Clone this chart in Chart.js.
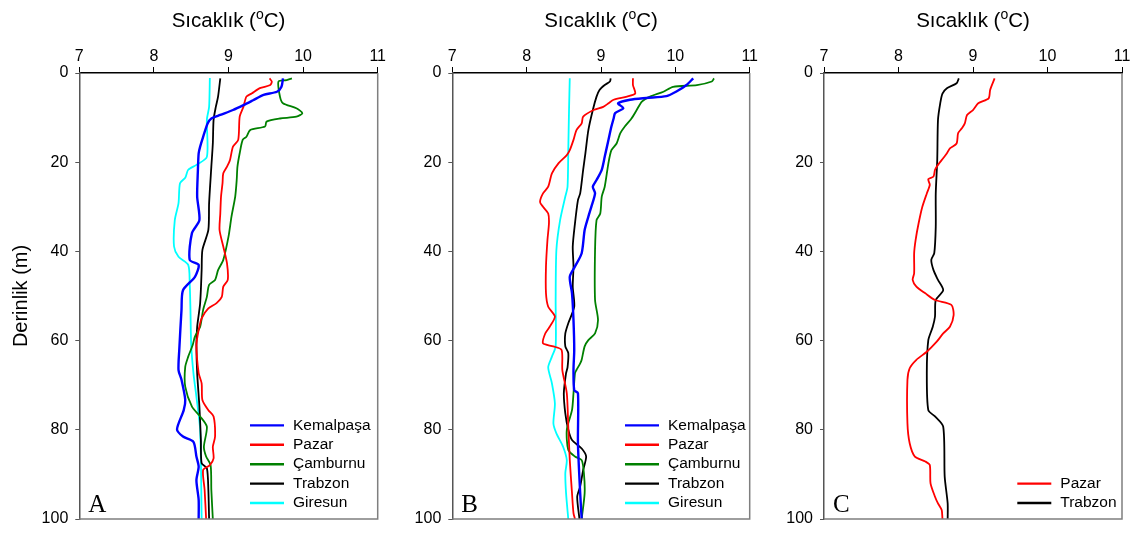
<!DOCTYPE html>
<html>
<head>
<meta charset="utf-8">
<script src="https://cdn.jsdelivr.net/npm/chart.js@4/dist/chart.umd.min.js"></script>
<style>
  html, body { margin: 0; padding: 0; background: #fff; }
  body { width: 1142px; height: 537px; position: relative; overflow: hidden; }
  canvas { position: absolute; top: 0; }
</style>
</head>
<body>
<canvas id="cA" width="390" height="537" style="left:0px"></canvas>
<canvas id="cB" width="372" height="537" style="left:390px"></canvas>
<canvas id="cC" width="380" height="537" style="left:762px"></canvas>
<script>
// ---------- DATA ----------
const xTicks = [7, 8, 9, 10, 11];
const yTicks = [0, 20, 40, 60, 80, 100];
const stations = ["Kemalpaşa", "Pazar", "Çamburnu", "Trabzon", "Giresun"];

// Panel A
const A_kemalpasa_T = [9.73,9.71,9.65,9.47,9.33,9.20,9.06,8.89,8.77,8.72,8.66,8.62,8.60,8.59,8.58,8.61,8.51,8.48,8.60,8.55,8.39,8.37,8.34,8.33,8.37,8.42,8.40,8.31,8.39,8.53,8.57,8.60,8.57,8.60,8.60];
const A_kemalpasa_D = [1.2,3.1,4.2,4.9,6.1,7.2,8.3,9.4,10.2,11.3,14.3,16.5,18,21.7,27.7,33,35.9,41.9,43,45.7,48.7,53.1,62.1,66.6,68.8,73.3,75.6,79.9,81.5,82.7,86,88.3,91.3,95.7,100];
const A_pazar_T = [9.55,9.58,9.56,9.42,9.31,9.24,9.20,9.15,9.13,9.06,9.02,8.98,8.93,8.92,8.90,8.89,8.88,8.93,8.98,8.99,8.93,8.91,8.84,8.73,8.64,8.60,8.57,8.60,8.64,8.65,8.73,8.80,8.82,8.79,8.80,8.75,8.66,8.68,8.70];
const A_pazar_D = [1.2,1.9,2.7,3.4,4.6,5.3,7.6,9.8,15,16.5,19.5,21,22.5,24.7,27.7,31.5,35.2,38.9,42.7,46.4,47.9,50.2,51.6,52.8,55,57.6,61,67.3,69.6,73.3,75.6,77,81.5,83.8,86.4,87.9,89,93.5,100];
const A_camburnu_T = [9.85,9.78,9.67,9.69,9.73,9.91,9.99,9.91,9.69,9.51,9.49,9.29,9.24,9.19,9.15,9.12,9.11,9.09,9.04,9.00,8.93,8.86,8.82,8.74,8.71,8.66,8.62,8.55,8.52,8.46,8.42,8.42,8.51,8.62,8.71,8.67,8.70,8.76,8.77,8.79];
const A_camburnu_D = [1.2,1.6,1.9,5.3,6.8,7.9,9,9.8,10.2,10.9,12,12.8,14.3,15,18,21,24,27.7,32.2,36.7,41.9,44.2,46.4,47.5,50.2,53.1,56.9,59.1,61,63.6,65.9,70.3,74.8,77,79.3,83.8,86,87.9,93.5,100];
const A_trabzon_T = [8.89,8.86,8.83,8.80,8.79,8.77,8.74,8.73,8.65,8.64,8.62,8.58,8.57,8.58,8.61,8.63,8.64,8.71,8.73,8.74];
const A_trabzon_D = [1.2,5.3,7.6,10.5,15.8,21,29.2,35.2,39.7,44.2,51.6,56.9,61,67.3,74.8,82.3,87.5,88.6,93.5,100];
const A_giresun_T = [8.75,8.74,8.71,8.71,8.57,8.46,8.42,8.35,8.33,8.28,8.27,8.33,8.46,8.48,8.49,8.50,8.53,8.57,8.62,8.64];
const A_giresun_D = [1.1,7.6,10.5,18.8,20.6,21.7,23.5,24.7,29.2,33,38.9,41.2,43,47.2,53.1,61,67.3,72.6,80,100];

// Panel B
const B_kemalpasa_T = [10.24,10.15,10.02,9.88,9.61,9.39,9.23,9.30,9.19,9.17,9.14,9.10,9.05,9.01,8.94,8.89,8.92,8.87,8.83,8.78,8.74,8.65,8.58,8.61,8.63,8.64,8.63,8.64,8.69,8.69,8.72,8.74];
const B_kemalpasa_D = [1.2,2.7,4.1,5.2,5.6,6,6.8,7.9,9,10.2,12,15,18.8,21.7,24,25.5,27,30,32.2,35.2,40.4,43.4,45.7,49.4,55.4,62.1,66.6,71.1,71.8,83,94.2,100];
const B_pazar_T = [9.43,9.43,9.46,9.35,9.17,9.10,9.03,8.90,8.76,8.74,8.67,8.63,8.58,8.54,8.43,8.34,8.29,8.22,8.18,8.22,8.29,8.30,8.28,8.26,8.26,8.29,8.38,8.31,8.25,8.22,8.36,8.47,8.48,8.54,8.56,8.58,8.61,8.63,8.65];
const B_pazar_D = [1.2,2.7,4.6,5.3,6,6.8,7.6,8.3,9.8,11.3,12.8,15,17.3,18.4,20.2,22.5,25.5,27,28.9,30,31.5,33.7,37.4,43.4,49.4,52.4,54.6,56.9,58.4,60.6,61.3,62.1,66.6,71.8,79.3,86.8,94.2,98.7,100];
const B_camburnu_T = [10.52,10.49,10.29,9.97,9.84,9.66,9.55,9.48,9.41,9.32,9.26,9.21,9.14,9.10,9.05,9.01,8.99,8.94,8.92,8.92,8.96,8.92,8.83,8.78,8.74,8.72,8.67,8.65,8.63,8.61,8.54,8.56,8.65,8.74,8.77,8.78,8.74];
const B_camburnu_D = [1.2,1.9,2.7,3.1,4.2,5.3,6.4,8.3,10.2,12,13.5,15.8,17.3,20.2,25.5,27.7,31.5,33,39.7,50.9,55.4,58.4,59.9,61.3,64.3,65.1,66.6,67.3,71.8,75.6,80,84.5,86,86.8,89.7,94.2,100];
const B_trabzon_T = [9.13,9.12,9.05,8.98,8.94,8.89,8.83,8.79,8.76,8.72,8.69,8.65,8.62,8.63,8.62,8.64,8.56,8.52,8.52,8.56,8.55,8.53,8.50,8.52,8.56,8.61,8.74,8.80,8.76,8.72,8.68,8.71];
const B_trabzon_D = [1.2,1.9,2.7,3.8,5.3,8.3,12.8,18,21.7,27,28.5,33.7,38.9,43.4,47.9,52.4,56.1,58.4,61.3,62.8,66,67.3,71.8,76.3,80,82.3,84.2,86,89,92.7,95,100];
const B_giresun_T = [8.58,8.57,8.56,8.55,8.52,8.45,8.40,8.39,8.39,8.34,8.29,8.34,8.38,8.36,8.40,8.49,8.54,8.52,8.53,8.56];
const B_giresun_D = [1.2,8.3,17.3,25.5,27.7,33,39.7,50.9,61.3,63.6,66,69.6,74.1,78.6,80.8,83.8,86.8,89.7,94.2,100];

// Panel C
const C_pazar_T = [9.29,9.23,9.21,9.07,9.00,8.92,8.89,8.85,8.80,8.78,8.69,8.65,8.60,8.53,8.49,8.47,8.40,8.42,8.38,8.32,8.27,8.23,8.21,8.21,8.19,8.24,8.36,8.49,8.71,8.74,8.69,8.60,8.51,8.38,8.24,8.15,8.12,8.12,8.15,8.22,8.36,8.42,8.43,8.49,8.53,8.58,8.59];
const C_pazar_D = [1.2,3.8,5.7,6.8,8.3,9.4,11.3,12.4,13.5,15.8,16.9,18,19.1,20.6,21.7,23.2,23.8,25.1,27,30,33.7,37.4,40.4,44.9,46.4,47.9,49.4,50.9,52,54.3,56.9,58.4,60.3,62.5,64.3,66.2,68.8,78.5,83,86,87.1,87.9,92,95,96.5,98,100];
const C_trabzon_T = [8.81,8.78,8.65,8.59,8.56,8.53,8.52,8.50,8.50,8.48,8.44,8.47,8.53,8.60,8.50,8.49,8.46,8.40,8.38,8.40,8.49,8.60,8.62,8.66,8.66];
const C_trabzon_D = [1.2,2.3,3.4,4.6,6.8,10.5,19.5,27,34.5,40.4,41.9,44.2,46.4,48.7,50.9,54.6,56.9,59.9,67.3,75.6,77,79.3,90.5,96.5,100];

const colors = { "Kemalpaşa": "#0000ff", "Pazar": "#ff0000", "Çamburnu": "#008000", "Trabzon": "#000000", "Giresun": "#00ffff" };
const widths = { "Kemalpaşa": 2.4, "Pazar": 1.8, "Çamburnu": 1.8, "Trabzon": 1.8, "Giresun": 1.8 };

function pts(T, D) { return T.map((t, i) => ({ x: t, y: D[i] })); }
function ds(name, T, D) {
  return { label: name, data: pts(T, D), showLine: true, borderColor: colors[name],
           backgroundColor: colors[name], borderWidth: widths[name], pointRadius: 0,
           tension: 0.25, fill: false };
}

// ---------- PLUGINS ----------
const framePlugin = {
  id: 'frame',
  afterDatasetsDraw(chart) {
    const a = chart.chartArea, c = chart.ctx;
    c.save();
    c.strokeStyle = '#7f7f7f'; c.lineWidth = 1.5;
    c.beginPath();
    c.moveTo(a.left, a.bottom); c.lineTo(a.right, a.bottom); c.lineTo(a.right, a.top);
    c.stroke();
    c.restore();
  }
};
const titlePlugin = {
  id: 'supTitle',
  afterDraw(chart) {
    const a = chart.chartArea, c = chart.ctx;
    const main1 = 'Sıcaklık (', sup = 'o', main2 = 'C)';
    const F = '"Liberation Sans", Arial, sans-serif';
    c.save();
    c.fillStyle = '#000';
    c.textBaseline = 'alphabetic';
    c.font = '20.5px ' + F;
    const w1 = c.measureText(main1).width, w3 = c.measureText(main2).width;
    c.font = '14px ' + F;
    const w2 = c.measureText(sup).width;
    const total = w1 + w2 + w3;
    let x = (a.left + a.right) / 2 - total / 2;
    const base = 27;
    c.textAlign = 'left';
    c.font = '20.5px ' + F;
    c.fillText(main1, x, base); x += w1;
    c.font = '14px ' + F;
    c.fillText(sup, x, base - 8); x += w2;
    c.font = '20.5px ' + F;
    c.fillText(main2, x, base);
    c.restore();
  }
};
const legendPlugin = {
  id: 'boxLegend',
  afterDraw(chart, args, opts) {
    const a = chart.chartArea, c = chart.ctx;
    const items = chart.data.datasets;
    const n = items.length, step = 19.4;
    const x0 = a.left + opts.dx;
    c.save();
    c.font = '15.5px "Liberation Sans", Arial, sans-serif';
    c.textBaseline = 'middle'; c.textAlign = 'left'; c.fillStyle = '#000';
    items.forEach((d, i) => {
      const y = a.bottom - 16 - (n - 1 - i) * step;
      c.strokeStyle = d.borderColor; c.lineWidth = 2.4;
      c.beginPath(); c.moveTo(x0, y); c.lineTo(x0 + 34, y); c.stroke();
      c.fillText(d.label, x0 + 43, y);
    });
    // panel letter
    c.font = '25px "Liberation Serif", "Times New Roman", serif';
    c.textBaseline = 'alphabetic';
    c.fillText(opts.letter, a.left + 9, a.bottom - 7);
    c.restore();
  }
};

function makeChart(id, datasets, yW, padRight, letter, dx, withYTitle) {
  const F = '"Liberation Sans", Arial, sans-serif';
  return new Chart(document.getElementById(id), {
    type: 'scatter',
    data: { datasets },
    plugins: [framePlugin, titlePlugin, legendPlugin],
    options: {
      responsive: false, animation: false, devicePixelRatio: 1,
      layout: { padding: { left: 0, right: padRight, top: 0, bottom: 18 } },
      plugins: { legend: { display: false }, tooltip: { enabled: false },
                 boxLegend: { letter, dx } },
      scales: {
        x: {
          type: 'linear', position: 'top', min: 7, max: 11,
          afterBuildTicks: s => { s.ticks = xTicks.map(v => ({ value: v })); },
          afterFit: s => { s.height = 73; },
          grid: { display: true, drawOnChartArea: false, drawTicks: true, tickLength: 6, color: '#000', lineWidth: 1 },
          border: { display: true, color: '#000', width: 1.5 },
          ticks: { color: '#000', padding: 1, font: { family: F, size: 16 } }
        },
        y: {
          type: 'linear', position: 'left', min: 0, max: 100, reverse: true,
          afterBuildTicks: s => { s.ticks = yTicks.map(v => ({ value: v })); },
          afterFit: s => { s.width = yW; },
          grid: { display: true, drawOnChartArea: false, drawTicks: true, tickLength: 4, color: '#555', lineWidth: 1 },
          border: { display: true, color: '#555', width: 1.5 },
          ticks: { color: '#000', padding: 7, font: { family: F, size: 16 } },
          title: { display: withYTitle, text: 'Derinlik (m)', color: '#000', padding: { top: 9, bottom: 0 },
                   font: { family: F, size: 20 } }
        }
      }
    }
  });
}

makeChart('cA', [
  ds(stations[0], A_kemalpasa_T, A_kemalpasa_D),
  ds(stations[1], A_pazar_T, A_pazar_D),
  ds(stations[2], A_camburnu_T, A_camburnu_D),
  ds(stations[3], A_trabzon_T, A_trabzon_D),
  ds(stations[4], A_giresun_T, A_giresun_D)
], 79.3, 12.3, 'A', 170.7, true);

makeChart('cB', [
  ds(stations[0], B_kemalpasa_T, B_kemalpasa_D),
  ds(stations[1], B_pazar_T, B_pazar_D),
  ds(stations[2], B_camburnu_T, B_camburnu_D),
  ds(stations[3], B_trabzon_T, B_trabzon_D),
  ds(stations[4], B_giresun_T, B_giresun_D)
], 62.3, 12.3, 'B', 172.7, false);

makeChart('cC', [
  ds('Pazar', C_pazar_T, C_pazar_D),
  ds('Trabzon', C_trabzon_T, C_trabzon_D)
], 62, 20, 'C', 193.3, false);
</script>
</body>
</html>
